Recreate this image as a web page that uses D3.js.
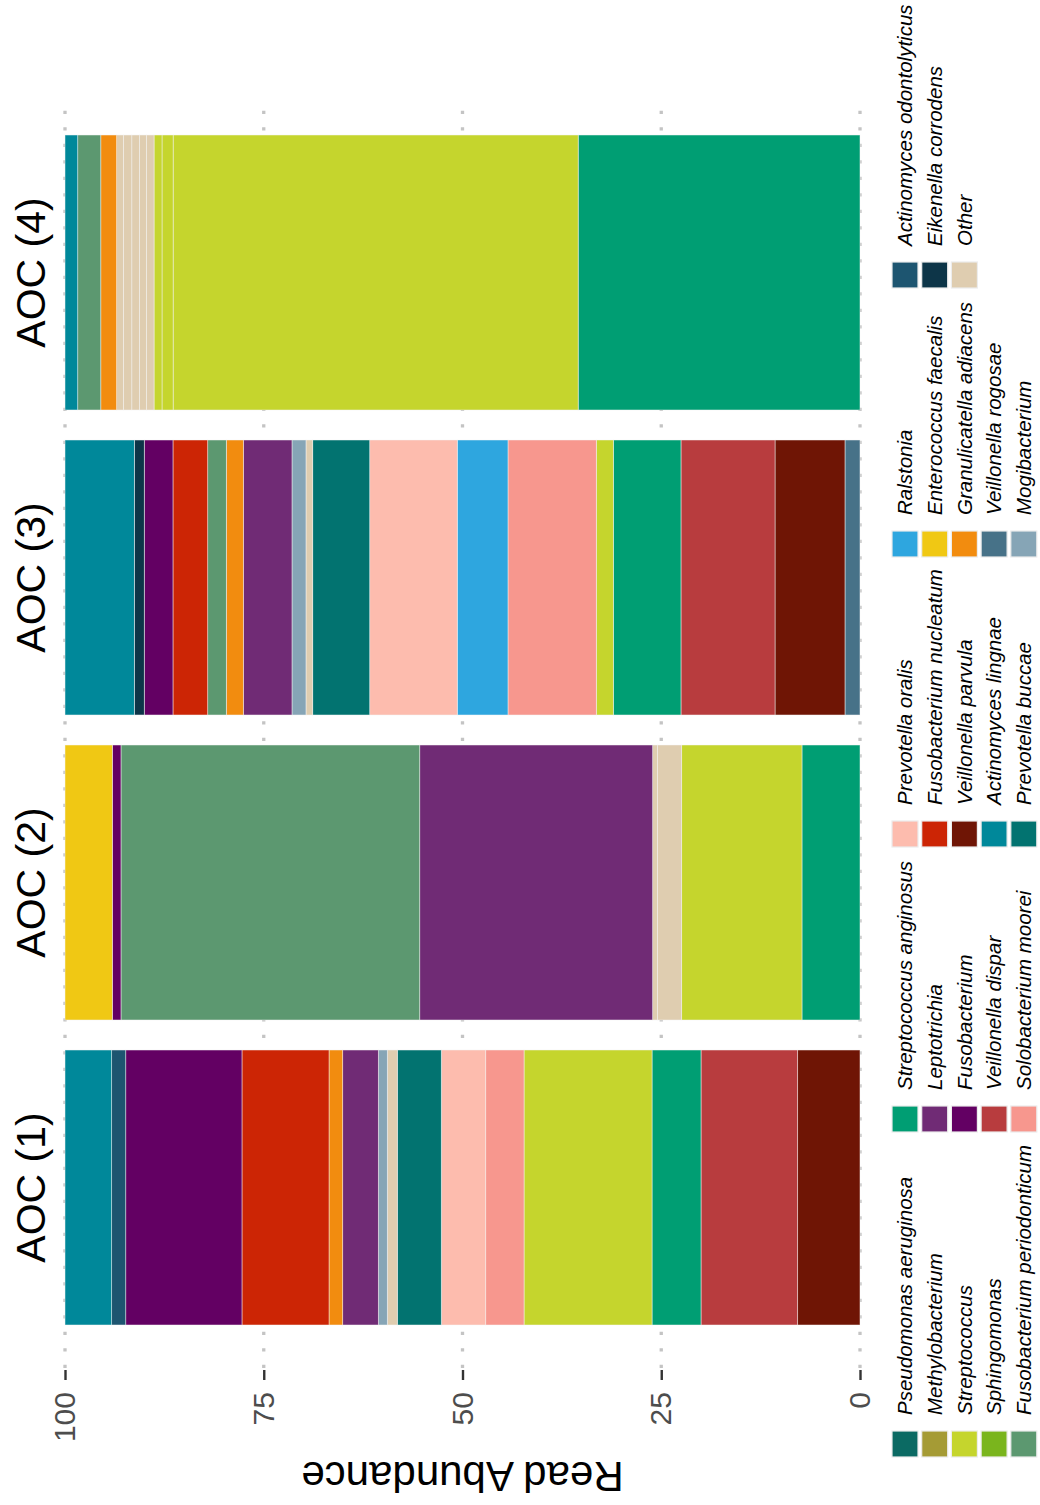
<!DOCTYPE html>
<html>
<head>
<meta charset="utf-8">
<script src="https://cdn.jsdelivr.net/npm/d3@7"></script>
<style>
  body { margin: 0; background: #fff; }
  svg { display: block; }
  text { font-family: "Liberation Sans", Arial, Helvetica, sans-serif; }
</style>
</head>
<body>
<svg id="chart" width="1040" height="1505"></svg>
<script>
// Facets (samples), left to right in the unrotated layout
const samples = ["AOC (1)", "AOC (2)", "AOC (3)", "AOC (4)"];

// Read abundance (%) per sample, listed from the top of each stack downwards
const aoc1 = [
  ["Actinomyces lingnae", 5.87],
  ["Actinomyces odontolyticus", 1.77],
  ["Fusobacterium", 14.62],
  ["Fusobacterium nucleatum", 10.95],
  ["Granulicatella adiacens", 1.72],
  ["Leptotrichia", 4.48],
  ["Mogibacterium", 1.13],
  ["Other", 1.26],
  ["Prevotella buccae", 5.53],
  ["Prevotella oralis", 5.59],
  ["Solobacterium moorei", 4.82],
  ["Streptococcus", 16.10],
  ["Streptococcus anginosus", 6.16],
  ["Veillonella dispar", 12.16],
  ["Veillonella parvula", 7.84]
];
const aoc2 = [
  ["Enterococcus faecalis", 5.95],
  ["Fusobacterium", 1.09],
  ["Fusobacterium periodonticum", 37.58],
  ["Leptotrichia", 29.30],
  ["Other", 0.60],
  ["Other", 3.05],
  ["Streptococcus", 15.13],
  ["Streptococcus anginosus", 7.30]
];
const aoc3 = [
  ["Actinomyces lingnae", 8.72],
  ["Eikenella corrodens", 1.25],
  ["Fusobacterium", 3.61],
  ["Fusobacterium nucleatum", 4.37],
  ["Fusobacterium periodonticum", 2.34],
  ["Granulicatella adiacens", 2.14],
  ["Leptotrichia", 6.12],
  ["Mogibacterium", 1.76],
  ["Other", 0.85],
  ["Prevotella buccae", 7.17],
  ["Prevotella oralis", 11.01],
  ["Ralstonia", 6.38],
  ["Solobacterium moorei", 11.11],
  ["Streptococcus", 2.14],
  ["Streptococcus anginosus", 8.51],
  ["Veillonella dispar", 11.83],
  ["Veillonella parvula", 8.80],
  ["Veillonella rogosae", 1.89]
];
const aoc4 = [
  ["Actinomyces lingnae", 1.60],
  ["Fusobacterium periodonticum", 2.90],
  ["Granulicatella adiacens", 2.00],
  ["Other", 0.85],
  ["Other", 1.05],
  ["Other", 0.95],
  ["Other", 0.90],
  ["Other", 0.95],
  ["Streptococcus", 1.00],
  ["Streptococcus", 1.40],
  ["Streptococcus", 50.95],
  ["Streptococcus anginosus", 35.45]
];
const sampleData = [aoc1, aoc2, aoc3, aoc4];

// Legend entries (column-major, five per column) and their fills
const species = [
  "Pseudomonas aeruginosa", "Methylobacterium", "Streptococcus", "Sphingomonas", "Fusobacterium periodonticum",
  "Streptococcus anginosus", "Leptotrichia", "Fusobacterium", "Veillonella dispar", "Solobacterium moorei",
  "Prevotella oralis", "Fusobacterium nucleatum", "Veillonella parvula", "Actinomyces lingnae", "Prevotella buccae",
  "Ralstonia", "Enterococcus faecalis", "Granulicatella adiacens", "Veillonella rogosae", "Mogibacterium",
  "Actinomyces odontolyticus", "Eikenella corrodens", "Other"
];
const speciesColors = [
  "#0b6a63", "#a59b35", "#c5d52d", "#7ab51d", "#5c9870",
  "#009e73", "#702b75", "#630063", "#b83c3e", "#f7978e",
  "#fdbcae", "#cc2505", "#6f1505", "#00889a", "#027370",
  "#2ea6df", "#f0c814", "#f28c0f", "#477288", "#86a5b6",
  "#1d5570", "#0d3548", "#dfcdb0"
];

const tickValues = [0, 25, 50, 75, 100];
const axisTitle = "Read Abundance";

// ---- layout: the plot is built landscape, then turned a quarter counter-clockwise ----
const W = 1505, H = 1040;
const svg = d3.select("#chart");
const g = svg.append("g").attr("transform", `translate(0,${W}) rotate(-90)`);

const color = d3.scaleOrdinal().domain(species).range(speciesColors);
const x = d3.scaleBand().domain(samples).range([180, 1370]).paddingInner(0.0984).paddingOuter(0);
const y = d3.scaleLinear().domain([0, 100]).range([860, 65]);

// dotted gridlines
g.append("g").selectAll("line").data(tickValues).join("line")
  .attr("x1", 137).attr("x2", 1405)
  .attr("y1", d => y(d)).attr("y2", d => y(d))
  .attr("stroke", "#c4c4c4").attr("stroke-width", 3.3)
  .attr("stroke-dasharray", "3.3,13.2");

// stacked bars: first entry sits at the top of the stack
samples.forEach((s, i) => {
  const rows = sampleData[i];
  let acc = 0;
  const segs = [];
  for (let k = rows.length - 1; k >= 0; k--) {
    segs.push({ sp: rows[k][0], y0: acc, y1: acc + rows[k][1] });
    acc += rows[k][1];
  }
  g.append("g").selectAll("rect").data(segs).join("rect")
    .attr("x", x(s))
    .attr("width", x.bandwidth())
    .attr("y", d => y(d.y1))
    .attr("height", d => y(d.y0) - y(d.y1))
    .attr("fill", d => color(d.sp))
    .attr("stroke", "#f4f4f4").attr("stroke-opacity", 0.7).attr("stroke-width", 0.7);
});

// facet labels
g.append("g").selectAll("text").data(samples).join("text")
  .attr("x", d => x(d) + x.bandwidth() / 2)
  .attr("y", 45)
  .attr("text-anchor", "middle")
  .attr("font-size", 41)
  .attr("fill", "#000")
  .text(d => d);

// value axis
const axis = d3.axisLeft(y).tickValues(tickValues).tickSize(10).tickPadding(12);
const ag = g.append("g").attr("transform", "translate(135,0)").call(axis);
ag.select(".domain").remove();
ag.selectAll(".tick line").attr("stroke", "#333").attr("stroke-width", 2.4);
ag.selectAll(".tick text").attr("font-size", 30).attr("fill", "#4d4d4d")
  .attr("font-family", '"Liberation Sans", Arial, Helvetica, sans-serif');

g.append("text")
  .attr("transform", `translate(43,${(y(0) + y(100)) / 2}) rotate(-90)`)
  .attr("text-anchor", "middle")
  .attr("font-size", 42)
  .attr("fill", "#000")
  .text(axisTitle);

// legend: five columns of five keys
const legendCols = [48, 373, 658, 948, 1217];
const keySize = 26, rowStep = 29.7, rowTop = 892;
const lg = g.append("g");
const items = lg.selectAll("g").data(species).join("g")
  .attr("transform", (d, i) => `translate(${legendCols[Math.floor(i / 5)]},${rowTop + (i % 5) * rowStep})`);
items.append("rect")
  .attr("width", keySize).attr("height", keySize)
  .attr("fill", d => color(d))
  .attr("stroke", "#ececec").attr("stroke-width", 1.2);
items.append("text")
  .attr("x", keySize + 16)
  .attr("y", keySize / 2)
  .attr("dy", "0.36em")
  .attr("font-size", 20.5)
  .attr("font-style", "italic")
  .attr("fill", "#000")
  .text(d => d);
</script>
</body>
</html>
